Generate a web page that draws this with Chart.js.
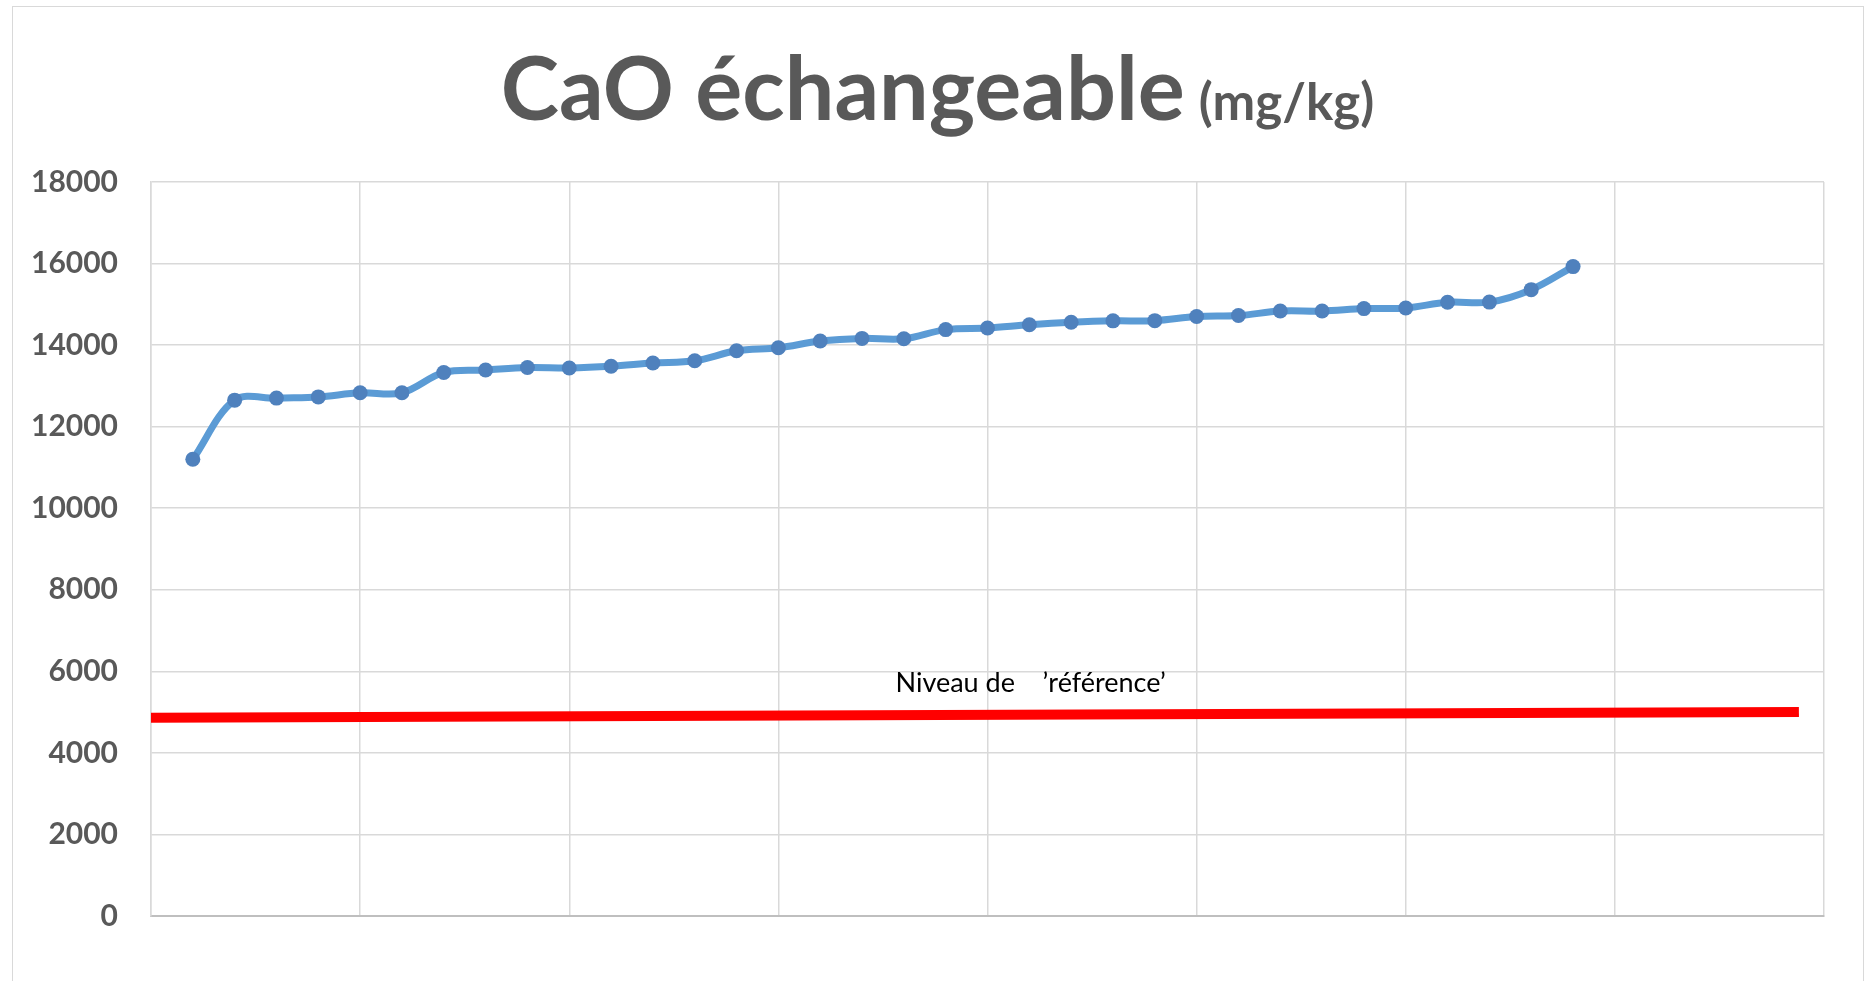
<!DOCTYPE html>
<html lang="fr">
<head>
<meta charset="utf-8">
<title>CaO échangeable (mg/kg)</title>
<script src="https://cdn.jsdelivr.net/npm/chart.js@4/dist/chart.umd.min.js"></script>
<style>
  html, body { margin: 0; padding: 0; background: #ffffff; }
  #wrap { position: relative; width: 1875px; height: 981px; overflow: hidden; }
  #frame { position: absolute; left: 12px; top: 6px; width: 1852px; height: 1100px;
           border: 1.5px solid #d9d9d9; box-sizing: border-box; pointer-events: none; }
  canvas { position: absolute; left: 0; top: 0; }
</style>
</head>
<body>
<div id="wrap">
  <canvas id="chart" width="1875" height="981"></canvas>
  <div id="frame"></div>
</div>
<script>
// Sample number (x) and exchangeable CaO content (mg/kg) of each sample
const sampleIndex = [1, 2, 3, 4, 5, 6, 7, 8, 9, 10, 11, 12, 13, 14, 15, 16, 17,
                     18, 19, 20, 21, 22, 23, 24, 25, 26, 27, 28, 29, 30, 31, 32, 33, 34];
const caoValues = [11200, 12650, 12700, 12730, 12830, 12830, 13330, 13390, 13450, 13440,
                   13480, 13560, 13615, 13860, 13935, 14100, 14165, 14155, 14380, 14420,
                   14500, 14560, 14595, 14600, 14700, 14725, 14835, 14835, 14895, 14910,
                   15050, 15055, 15360, 15925];

// Reference level line (start and end)
const refLevelX = [0, 39.4];
const refLevelY = [4860, 5005];
const refLabel = 'Niveau de    \u2019référence\u2019';

// Axis ranges and tick steps
const yTicks = [0, 2000, 4000, 6000, 8000, 10000, 12000, 14000, 16000, 18000];
const xRange = [0, 40];
const xStep = 5;

const titleMain = 'CaO échangeable';
const titleUnit = '(mg/kg)';

const caoPoints = sampleIndex.map((x, i) => ({ x: x, y: caoValues[i] }));
const refPoints = refLevelX.map((x, i) => ({ x: x, y: refLevelY[i] }));

// Title drawn as two runs of text: big bold name + smaller unit
const titlePlugin = {
  id: 'twoPartTitle',
  afterDraw(chart) {
    const ctx = chart.ctx;
    ctx.save();
    ctx.fillStyle = '#595959';
    ctx.textBaseline = 'alphabetic';
    const mainFont = 'bold 88px Lato';
    const unitFont = 'bold 51px Lato';
    ctx.font = mainFont;
    const wMain = ctx.measureText(titleMain).width;
    ctx.font = unitFont;
    const wUnit = ctx.measureText(titleUnit).width;
    const gap = 14;
    const total = wMain + gap + wUnit;
    const x0 = chart.width / 2 - total / 2;
    const baseY = 120;
    ctx.font = mainFont;
    ctx.textAlign = 'left';
    ctx.fillText(titleMain, x0, baseY);
    ctx.font = unitFont;
    ctx.fillText(titleUnit, x0 + wMain + gap, baseY);
    ctx.restore();
  }
};

// Text label placed in data coordinates above the reference line
const refLabelPlugin = {
  id: 'refLabel',
  afterDatasetsDraw(chart, args, opts) {
    const ctx = chart.ctx;
    const px = chart.scales.x.getPixelForValue(opts.x);
    const py = chart.scales.y.getPixelForValue(opts.y);
    ctx.save();
    ctx.font = opts.font;
    ctx.fillStyle = '#000000';
    ctx.textAlign = 'left';
    ctx.textBaseline = 'alphabetic';
    ctx.fillText(refLabel, px, py);
    ctx.restore();
  }
};

new Chart(document.getElementById('chart'), {
  type: 'line',
  data: {
    datasets: [
      {
        label: 'CaO échangeable',
        data: caoPoints,
        borderColor: '#5b9bd5',
        borderWidth: 7,
        backgroundColor: '#4f81bd',
        pointBackgroundColor: '#4f81bd',
        pointBorderColor: '#4f81bd',
        pointBorderWidth: 0,
        pointRadius: 7.5,
        tension: 0.35,
        cubicInterpolationMode: 'default',
        fill: false,
        order: 1
      },
      {
        label: 'Niveau de référence',
        data: refPoints,
        borderColor: '#ff0000',
        borderWidth: 10,
        borderCapStyle: 'butt',
        pointRadius: 0,
        tension: 0,
        fill: false,
        order: 2
      }
    ]
  },
  options: {
    responsive: false,
    animation: false,
    devicePixelRatio: 1,
    layout: { padding: { top: 182, right: 51, bottom: 65, left: 0 } },
    plugins: {
      legend: { display: false },
      title: { display: false },
      tooltip: { enabled: false },
      refLabel: { x: 17.8, y: 5490, font: '27px Lato' }
    },
    scales: {
      x: {
        type: 'linear',
        min: xRange[0],
        max: xRange[1],
        ticks: { display: false, stepSize: xStep },
        grid: { color: '#d9d9d9', lineWidth: 1.5, drawTicks: false },
        border: { color: '#bfbfbf', width: 2 }
      },
      y: {
        min: yTicks[0],
        max: yTicks[yTicks.length - 1],
        afterBuildTicks(scale) { scale.ticks = yTicks.map(v => ({ value: v })); },
        afterFit(scale) { scale.width = 151; },
        ticks: {
          color: '#595959',
          font: { family: 'Lato', size: 30, weight: 'bold' },
          padding: 33,
          callback: v => String(v)
        },
        grid: { color: '#d9d9d9', lineWidth: 1.5, drawTicks: false },
        border: { color: '#d9d9d9', width: 1.5 }
      }
    }
  },
  plugins: [titlePlugin, refLabelPlugin]
});
</script>
</body>
</html>
